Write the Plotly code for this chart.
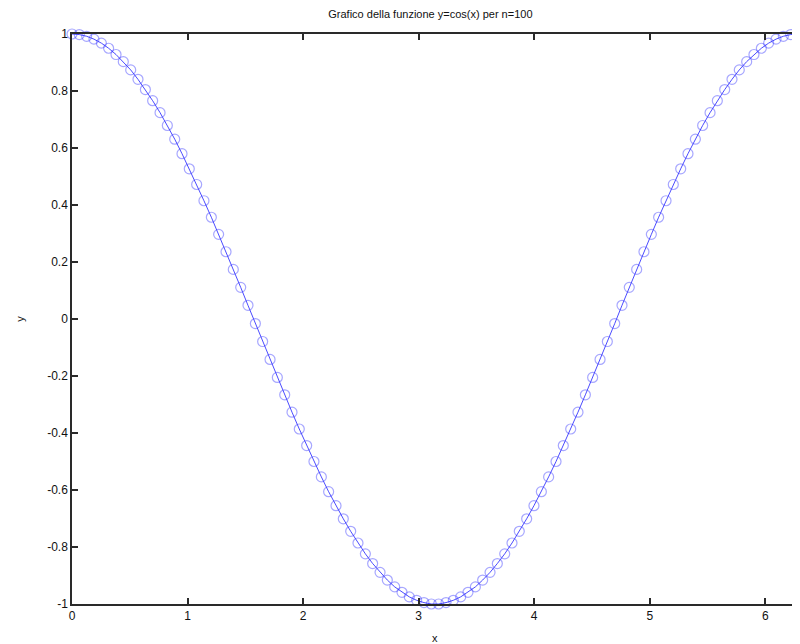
import plotly.graph_objects as go

x_vals = [0.000, 0.063, 0.127, 0.190, 0.254, 0.317, 0.381, 0.444, 0.508, 0.571,
          0.635, 0.698, 0.762, 0.825, 0.889, 0.952, 1.015, 1.079, 1.142, 1.206,
          1.269, 1.333, 1.396, 1.460, 1.523, 1.587, 1.650, 1.714, 1.777, 1.841,
          1.904, 1.967, 2.031, 2.094, 2.158, 2.221, 2.285, 2.348, 2.412, 2.475,
          2.539, 2.602, 2.666, 2.729, 2.793, 2.856, 2.919, 2.983, 3.046, 3.110,
          3.173, 3.237, 3.300, 3.364, 3.427, 3.491, 3.554, 3.618, 3.681, 3.745,
          3.808, 3.871, 3.935, 3.998, 4.062, 4.125, 4.189, 4.252, 4.316, 4.379,
          4.443, 4.506, 4.570, 4.633, 4.697, 4.760, 4.823, 4.887, 4.950, 5.014,
          5.077, 5.141, 5.204, 5.268, 5.331, 5.395, 5.458, 5.522, 5.585, 5.649,
          5.712, 5.775, 5.839, 5.902, 5.966, 6.029, 6.093, 6.156, 6.220, 6.283]

y_vals = [1.000, 0.998, 0.992, 0.982, 0.968, 0.950, 0.928, 0.903, 0.874, 0.841,
          0.805, 0.766, 0.724, 0.679, 0.631, 0.580, 0.527, 0.472, 0.415, 0.357,
          0.297, 0.236, 0.174, 0.111, 0.048, -0.016, -0.079, -0.142, -0.205, -0.266,
          -0.327, -0.386, -0.444, -0.500, -0.554, -0.606, -0.655, -0.701, -0.745, -0.786,
          -0.824, -0.858, -0.889, -0.916, -0.940, -0.959, -0.975, -0.987, -0.995, -1.000,
          -1.000, -0.995, -0.987, -0.975, -0.959, -0.940, -0.916, -0.889, -0.858, -0.824,
          -0.786, -0.745, -0.701, -0.655, -0.606, -0.554, -0.500, -0.444, -0.386, -0.327,
          -0.266, -0.205, -0.142, -0.079, -0.016, 0.048, 0.111, 0.174, 0.236, 0.297,
          0.357, 0.415, 0.472, 0.527, 0.580, 0.631, 0.679, 0.724, 0.766, 0.805,
          0.841, 0.874, 0.903, 0.928, 0.950, 0.968, 0.982, 0.992, 0.998, 1.000]

x_ticks = [0, 1, 2, 3, 4, 5, 6]
y_ticks = [-1, -0.8, -0.6, -0.4, -0.2, 0, 0.2, 0.4, 0.6, 0.8, 1]
y_tick_labels = ["-1", "-0.8", "-0.6", "-0.4", "-0.2", "0", "0.2", "0.4", "0.6", "0.8", "1"]

title_text = "Grafico della funzione y=cos(x) per n=100"

FONT = "Liberation Sans, Arial, sans-serif"

fig = go.Figure()
fig.add_trace(go.Scatter(
    x=x_vals, y=y_vals, mode="lines+markers",
    line=dict(color="rgba(30,30,255,0.8)", width=1),
    marker=dict(symbol="circle-open", size=10, color="rgba(60,60,255,0.45)",
                line=dict(width=1.2)),
    cliponaxis=False, showlegend=False,
))

axis_common = dict(
    showgrid=False, zeroline=False, showline=True, linecolor="#2a2a2a", linewidth=1.5,
    mirror="ticks", ticks="inside", ticklen=6, tickwidth=1.5, tickcolor="#2a2a2a",
    tickfont=dict(family=FONT, size=12, color="#111"),
)

fig.update_layout(
    width=800, height=644,
    margin=dict(l=64, r=10, t=26, b=48, autoexpand=False),
    paper_bgcolor="white", plot_bgcolor="white",
    title=dict(text=title_text, x=0.528, xanchor="center", y=1 - 6 / 644, yanchor="middle",
               font=dict(family=FONT, size=11, color="#111")),
    xaxis=dict(range=[0, 6.2832], tickvals=x_ticks, ticktext=[str(t) for t in x_ticks],
               automargin=False, **axis_common),
    yaxis=dict(range=[-1, 1], tickvals=y_ticks, ticktext=y_tick_labels,
               title=dict(text="y", standoff=20, font=dict(family=FONT, size=11, color="#111")),
               automargin=False, **axis_common),
    annotations=[dict(text="x", xref="paper", yref="paper", x=0.5, y=-34 / 570,
                      xanchor="center", yanchor="middle", showarrow=False,
                      font=dict(family=FONT, size=11, color="#111"))],
)

fig.write_html("out.html")
